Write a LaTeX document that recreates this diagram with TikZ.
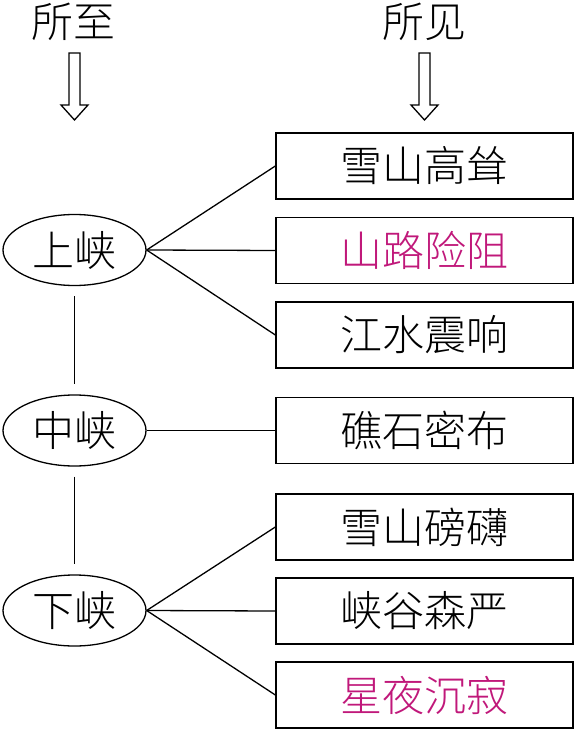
\documentclass[tikz,border=0pt]{standalone}
\usepackage{fontspec}
\newfontfamily\cjk{Noto Sans CJK SC Light}
\usetikzlibrary{shapes.geometric}
\definecolor{hilite}{RGB}{192,24,122}
\tikzset{
  seen/.style={draw,minimum width=148.5pt,minimum height=33pt,inner sep=0pt},
  reach/.style={draw,ellipse,minimum width=71.5pt,minimum height=35.5pt,inner sep=0pt},
}
\begin{document}
\begin{tikzpicture}[x=0.5pt,y=-0.5pt,line width=0.65pt,font=\cjk\fontsize{21}{21}\selectfont]
\useasboundingbox (0,0) rectangle (575,731);
\node (zhi) at (73,22) {所至};
\node (jian) at (424,22) {所见};
% hollow arrows under the headings
\foreach \x in {74.5,424.5}{
  \draw (\x-5.5,53)--(\x+5.5,53)--(\x+5.5,105)--(\x+13.5,105)--(\x,120)--(\x-13.5,105)--(\x-5.5,105)--cycle;}
\node[reach] (up) at (74.5,250) {上峡};
\node[reach] (mid) at (74.5,430.5) {中峡};
\node[reach] (low) at (74.5,610.5) {下峡};
\foreach \y/\name/\txt/\col in {166/a1/雪山高耸/black,250.5/a2/山路险阻/hilite,335/a3/江水震响/black,
  430.5/b1/礁石密布/black,
  527/c1/雪山磅礴/black,611/c2/峡谷森严/black,695/c3/星夜沉寂/hilite}{
  \node[seen,text=\col] (\name) at (424.5,\y) {\txt};}
\foreach \a in {a1,a2,a3}{\draw (up.east)--(\a.west);}
\draw (mid.east)--(b1.west);
\foreach \c in {c1,c2,c3}{\draw (low.east)--(\c.west);}
\draw ([yshift=-5pt]up.south)--([yshift=5pt]mid.north);
\draw ([yshift=-5pt]mid.south)--([yshift=5pt]low.north);
\end{tikzpicture}
\end{document}
